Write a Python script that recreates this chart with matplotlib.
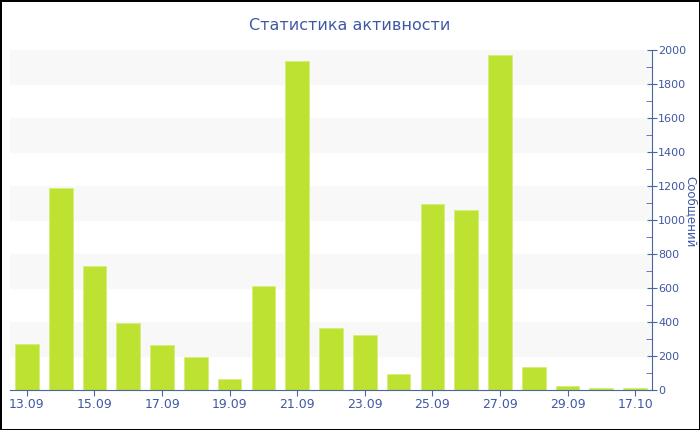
import matplotlib
matplotlib.use('Agg')
import matplotlib.pyplot as plt
from matplotlib.ticker import MultipleLocator

days = ['13.09', '14.09', '15.09', '16.09', '17.09', '18.09', '19.09', '20.09', '21.09', '22.09',
        '23.09', '24.09', '25.09', '26.09', '27.09', '28.09', '29.09', '30.09', '17.10']
messages = [273, 1189, 730, 397, 262, 193, 62, 613, 1934, 366,
            326, 97, 1095, 1060, 1968, 136, 26, 13, 9]

axis_color = '#4a64a8'
text_color = '#3f58a3'
bar_color = '#bde232'

fig = plt.figure(figsize=(7, 4.3), dpi=100)
fig.patch.set_edgecolor('black')
fig.patch.set_linewidth(2)
ax = fig.add_axes([10 / 700, 40 / 430, 642 / 700, 340 / 430])

# light stripes every other 200
for lo in range(200, 2000, 400):
    ax.axhspan(lo, lo + 200, color='#f8f8f8', zorder=0)

x = list(range(len(days)))
ax.bar(x, messages, width=0.7, color=bar_color, edgecolor='#d4ee7a', linewidth=0.6, zorder=2)

ax.set_xlim(-0.5, len(days) - 0.5)
ax.set_ylim(0, 2000)
ax.set_xticks(x[::2])
ax.set_xticklabels(days[::2])

ax.yaxis.tick_right()
ax.yaxis.set_major_locator(MultipleLocator(200))
ax.yaxis.set_minor_locator(MultipleLocator(100))
ax.tick_params(axis='y', which='major', direction='inout', length=7, color=axis_color,
               labelcolor=text_color, labelsize=8, pad=1)
ax.tick_params(axis='y', which='minor', direction='in', length=4, color=axis_color)
ax.tick_params(axis='x', direction='out', length=4, color=axis_color,
               labelcolor=text_color, labelsize=9, pad=2)

for side in ['top', 'left']:
    ax.spines[side].set_visible(False)
ax.spines['right'].set_color(axis_color)
ax.spines['bottom'].set_color(axis_color)

fig.text(0.5, 405 / 430, 'Статистика активности', ha='center', va='center',
         color=text_color, fontsize=11.5)
fig.text(691 / 700, 1 - 212 / 430, 'Сообщений', rotation=270, ha='center', va='center',
         color=text_color, fontsize=8.5)

fig.savefig('out.png', dpi=100)
